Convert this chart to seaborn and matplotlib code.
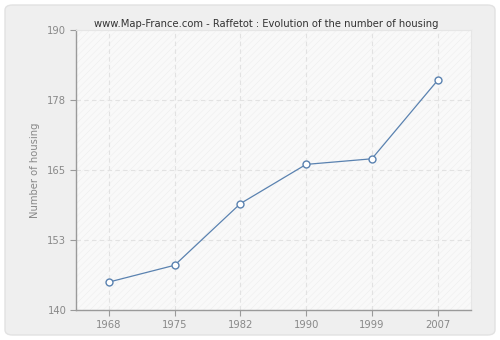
import matplotlib
matplotlib.use("Agg")
import matplotlib.pyplot as plt
import seaborn as sns
import pandas as pd
from matplotlib.patches import FancyBboxPatch, Rectangle

years = ["1968", "1975", "1982", "1990", "1999", "2007"]
housing = [145, 148, 159, 166, 167, 181]
ytick_vals = [140, 152.5, 165, 177.5, 190]
ytick_labels = ["140", "153", "165", "178", "190"]
title = "www.Map-France.com - Raffetot : Evolution of the number of housing"
ylabel = "Number of housing"

df = pd.DataFrame({"year": years, "housing": housing})

sns.set_theme(style="white")
plt.rcParams["font.family"] = ["DejaVu Sans"]
plt.rcParams["hatch.linewidth"] = 0.4

fig = plt.figure(figsize=(5, 3.4), dpi=100)
fig.patch.set_facecolor("#ffffff")
bg = FancyBboxPatch((5 / 500, 5 / 340), 490 / 500, 330 / 340,
                    boxstyle="round,pad=0,rounding_size=0.015",
                    transform=fig.transFigure, facecolor="#efefef",
                    edgecolor="#e2e2e2", linewidth=1, zorder=-10)
fig.patches.append(bg)

ax = fig.add_axes([0.152, 0.088, 0.789, 0.824])
ax.set_zorder(1)
ax.set_facecolor("#f9f9f9")
ax.add_patch(Rectangle((0, 0), 1, 1, transform=ax.transAxes, facecolor="none",
                       edgecolor="#eeeeee", hatch="/////", linewidth=0, zorder=0))

sns.pointplot(data=df, x="year", y="housing", ax=ax, color="#5a82b0",
              markers="o", linestyles="-", errorbar=None,
              markersize=5, markerfacecolor="white", markeredgewidth=1,
              linewidth=0.9, zorder=3)

ax.set_xlim(-0.5, 5.5)
ax.set_ylim(140, 190)
ax.set_yticks(ytick_vals)
ax.set_yticklabels(ytick_labels)
ax.grid(True, color="#e2e2e2", linestyle=(0, (4, 3)), linewidth=0.8)
ax.set_axisbelow(True)

for s in ["top", "right"]:
    ax.spines[s].set_color("#e6e6e6")
    ax.spines[s].set_linewidth(0.8)
for s in ["left", "bottom"]:
    ax.spines[s].set_color("#9a9a9a")
    ax.spines[s].set_linewidth(1)

ax.tick_params(axis="both", which="both", direction="out", length=4, width=0.8,
               color="#9a9a9a", labelcolor="#888888", labelsize=7.2, pad=3,
               left=True, bottom=True)
ax.set_xlabel("")
ax.set_ylabel(ylabel, color="#888888", fontsize=7.2, labelpad=5)
fig.text(0.533, 0.914, title, ha="center", va="bottom", fontsize=7.2, color="#333333")

fig.savefig("out.png", dpi=100, facecolor=fig.get_facecolor())
